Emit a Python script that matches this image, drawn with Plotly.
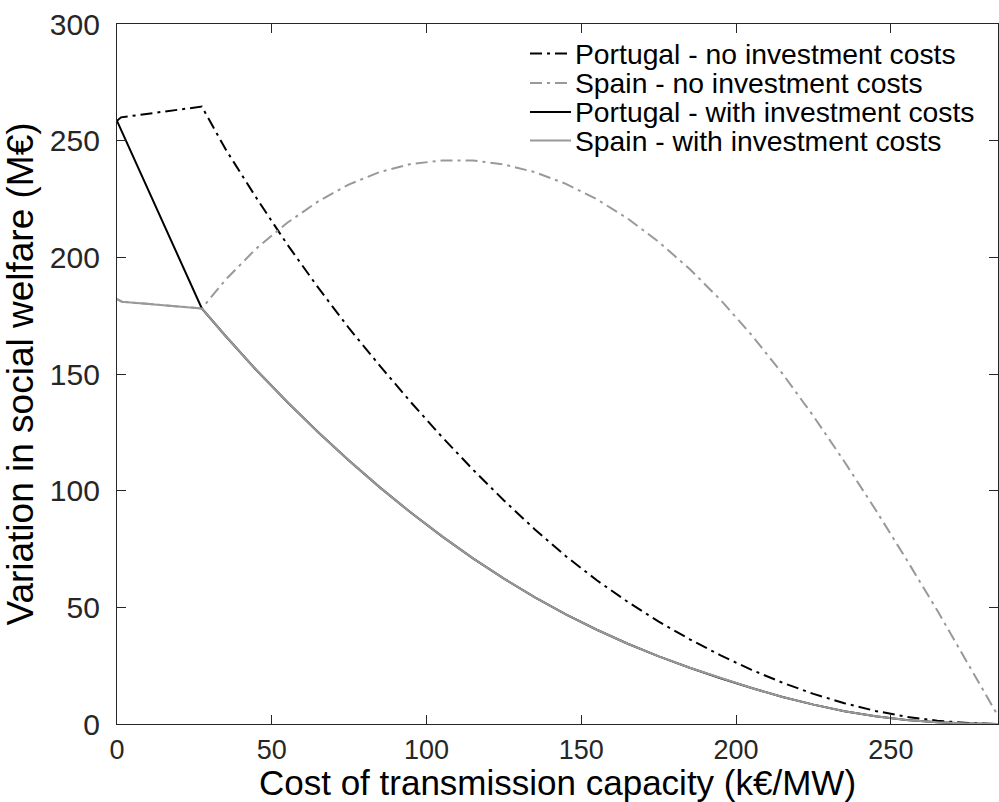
import plotly.graph_objects as go

# Cost of transmission capacity (k€/MW)
x_start_pt = [0.0, 1.3]
x_start_es = [0.0, 1.6]
x_curve = [27.4, 35, 45, 55, 65, 75, 85, 95, 105, 115, 125, 135, 145, 155,
           165, 175, 185, 195, 205, 215, 225, 235, 245, 255, 265, 275, 284.6]

# Variation in social welfare (M€)
pt_no_inv_start = [258.5, 260.0]
pt_no_inv_curve = [264.6, 246.5, 225.5, 205.5, 187.0, 169.5, 153.4, 137.8, 123.0,
                   109.0, 95.8, 83.4, 71.9, 61.6, 52.3, 43.9, 36.3, 29.4, 23.2,
                   17.7, 12.9, 8.9, 5.6, 3.1, 1.4, 0.4, 0.0]

es_with_inv_start = [182.1, 181.0]
with_inv_curve = [178.1, 166.4, 151.7, 138.0, 125.0, 112.8, 101.3, 90.5, 80.4,
                  71.0, 62.3, 54.3, 47.0, 40.4, 34.4, 29.0, 24.1, 19.6, 15.4,
                  11.6, 8.3, 5.5, 3.3, 1.7, 0.7, 0.2, 0.0]

es_no_inv_curve = [178.1, 190.3, 203.8, 214.8, 224.0, 231.3, 236.6, 240.0, 241.5,
                   241.5, 239.8, 236.5, 231.5, 224.9, 216.6, 206.6, 195.0, 181.7,
                   166.7, 150.1, 131.9, 112.4, 91.9, 70.6, 48.6, 25.9, 3.5]

pt_with_inv_start = [258.5]

series_names = [
    "Portugal - no investment costs",
    "Spain - no investment costs",
    "Portugal - with investment costs",
    "Spain - with investment costs",
]

BLACK = "#000000"
GREY = "#999999"
AXIS = "#262626"
FONT = "Liberation Sans, Arial, Helvetica, sans-serif"
DASHDOT = "12px,5px,3px,5px"

series = [
    dict(x=x_start_pt + x_curve, y=pt_no_inv_start + pt_no_inv_curve,
         color=BLACK, dash=DASHDOT),
    dict(x=x_start_es + x_curve, y=es_with_inv_start + es_no_inv_curve,
         color=GREY, dash=DASHDOT),
    dict(x=[0.0] + x_curve, y=pt_with_inv_start + with_inv_curve,
         color=BLACK, dash="solid"),
    dict(x=x_start_es + x_curve, y=es_with_inv_start + with_inv_curve,
         color=GREY, dash="solid"),
]

fig = go.Figure()
for name, s in zip(series_names, series):
    fig.add_trace(go.Scatter(
        x=s["x"], y=s["y"], mode="lines", name=name, showlegend=False,
        line=dict(color=s["color"], width=2, dash=s["dash"]),
    ))

# Plot area in pixels (used to place the legend in paper coordinates)
W, H = 999, 802
L, R, T, B = 117, 1, 24, 78
pw, ph = W - L - R, H - T - B


def px_to_paper(px, py):
    return (px - L) / pw, (H - B - py) / ph


legend_rows = [53.5, 83, 112, 140.5]
for name, s, ry in zip(series_names, series, legend_rows):
    x0, y0 = px_to_paper(530, ry)
    x1, _ = px_to_paper(571, ry)
    fig.add_shape(type="line", xref="paper", yref="paper",
                  x0=x0, x1=x1, y0=y0, y1=y0,
                  line=dict(color=s["color"], width=2, dash=s["dash"]))
    tx, ty = px_to_paper(573, ry)
    fig.add_annotation(xref="paper", yref="paper", x=tx, y=ty,
                       xanchor="left", yanchor="middle", showarrow=False,
                       text=name, font=dict(family=FONT, size=28.3, color=BLACK))

axis_common = dict(
    showline=True, mirror="allticks", linecolor=AXIS, linewidth=1.3,
    ticks="inside", ticklen=9, tickwidth=1.3, tickcolor=AXIS,
    showgrid=False, zeroline=False,
)

fig.update_xaxes(
    range=[0, 284.6], tickvals=[0, 50, 100, 150, 200, 250],
    ticklabelstandoff=1,
    tickfont=dict(family=FONT, size=27, color=AXIS),
    title=dict(text="Cost of transmission capacity (k€/MW)",
               font=dict(family=FONT, size=35, color=BLACK), standoff=9),
    **axis_common,
)
fig.update_yaxes(
    range=[0, 300], tickvals=[0, 50, 100, 150, 200, 250, 300],
    ticklabelstandoff=10,
    tickfont=dict(family=FONT, size=30, color=AXIS),
    title=dict(text="Variation in social welfare (M€)",
               font=dict(family=FONT, size=37, color=BLACK), standoff=4),
    **axis_common,
)

fig.update_layout(
    width=W, height=H,
    margin=dict(l=L, r=R, t=T, b=B),
    paper_bgcolor="white", plot_bgcolor="white",
    showlegend=False,
)

fig.write_html("out.html")
